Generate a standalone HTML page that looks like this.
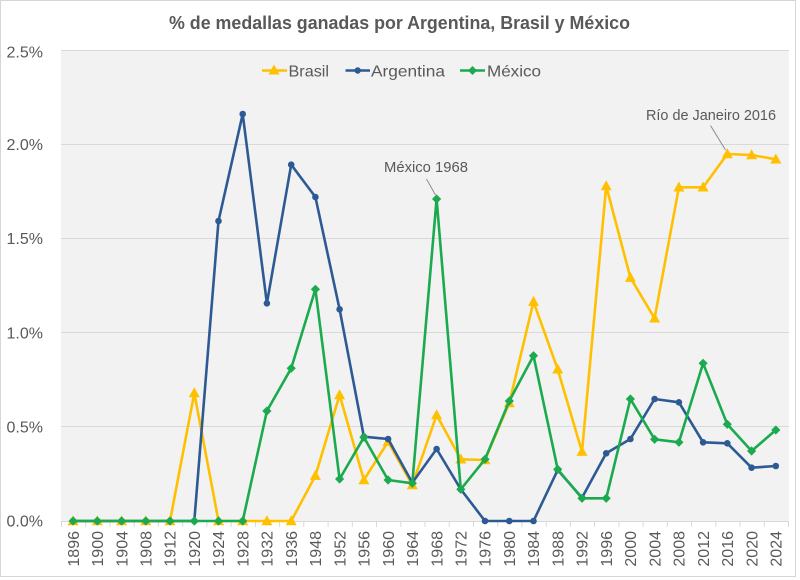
<!DOCTYPE html>
<html><head><meta charset="utf-8"><style>
html,body{margin:0;padding:0;background:#fff;}
svg{display:block;}
text{font-family:"Liberation Sans",sans-serif;fill:#595959;}
</style></head><body>
<svg width="800" height="580" viewBox="0 0 800 580" xmlns="http://www.w3.org/2000/svg">
<defs>
<marker id="tri" viewBox="-7 -7 14 14" markerWidth="14" markerHeight="14" refX="0" refY="0" markerUnits="userSpaceOnUse"><path d="M-5.5,4.2 L5.5,4.2 L0,-5.8Z" fill="#FFC000"/></marker>
<marker id="dot" viewBox="-5 -5 10 10" markerWidth="10" markerHeight="10" refX="0" refY="0" markerUnits="userSpaceOnUse"><circle r="3.3" fill="#2E5A94"/></marker>
<marker id="dia" viewBox="-6 -6 12 12" markerWidth="12" markerHeight="12" refX="0" refY="0" markerUnits="userSpaceOnUse"><path d="M0,-4.6 L4.6,0 L0,4.6 L-4.6,0Z" fill="#1BAA4E"/></marker>
</defs>
<rect x="0" y="0" width="800" height="580" fill="#fff"/>
<rect x="0.5" y="0.5" width="795" height="576" fill="none" stroke="#d6d6d6" stroke-width="1"/>
<!-- plot area -->
<rect x="61" y="50" width="728" height="471" fill="#f2f2f2"/>
<g stroke="#d9d9d9" stroke-width="1">
<line x1="61" y1="50.5" x2="789" y2="50.5"/>
<line x1="61" y1="144.5" x2="789" y2="144.5"/>
<line x1="61" y1="238.5" x2="789" y2="238.5"/>
<line x1="61" y1="332.5" x2="789" y2="332.5"/>
<line x1="61" y1="426.5" x2="789" y2="426.5"/>
<line x1="61" y1="521.5" x2="789" y2="521.5"/>
<path d="M61.5,521V527M85.7,521V527M110,521V527M134.2,521V527M158.4,521V527M182.7,521V527M206.9,521V527M231.1,521V527M255.4,521V527M279.6,521V527M303.8,521V527M328.1,521V527M352.3,521V527M376.5,521V527M400.8,521V527M425,521V527M449.2,521V527M473.5,521V527M497.7,521V527M521.9,521V527M546.2,521V527M570.4,521V527M594.6,521V527M618.9,521V527M643.1,521V527M667.3,521V527M691.6,521V527M715.8,521V527M740,521V527M764.3,521V527M788.5,521V527"/>
</g>
<!-- y labels -->
<g font-size="16" text-anchor="end">
<text x="43" y="57.5">2.5%</text>
<text x="43" y="150">2.0%</text>
<text x="43" y="244">1.5%</text>
<text x="43" y="338.5">1.0%</text>
<text x="43" y="432.5">0.5%</text>
<text x="43" y="526.5">0.0%</text>
</g>
<!-- x labels -->
<g font-size="16" text-anchor="end">
<text transform="translate(78.8,531) rotate(-90)">1896</text>
<text transform="translate(103,531) rotate(-90)">1900</text>
<text transform="translate(127.3,531) rotate(-90)">1904</text>
<text transform="translate(151.5,531) rotate(-90)">1908</text>
<text transform="translate(175.7,531) rotate(-90)">1912</text>
<text transform="translate(200,531) rotate(-90)">1920</text>
<text transform="translate(224.2,531) rotate(-90)">1924</text>
<text transform="translate(248.4,531) rotate(-90)">1928</text>
<text transform="translate(272.6,531) rotate(-90)">1932</text>
<text transform="translate(296.9,531) rotate(-90)">1936</text>
<text transform="translate(321.1,531) rotate(-90)">1948</text>
<text transform="translate(345.3,531) rotate(-90)">1952</text>
<text transform="translate(369.6,531) rotate(-90)">1956</text>
<text transform="translate(393.8,531) rotate(-90)">1960</text>
<text transform="translate(418,531) rotate(-90)">1964</text>
<text transform="translate(442.3,531) rotate(-90)">1968</text>
<text transform="translate(466.5,531) rotate(-90)">1972</text>
<text transform="translate(490.7,531) rotate(-90)">1976</text>
<text transform="translate(515,531) rotate(-90)">1980</text>
<text transform="translate(539.2,531) rotate(-90)">1984</text>
<text transform="translate(563.4,531) rotate(-90)">1988</text>
<text transform="translate(587.7,531) rotate(-90)">1992</text>
<text transform="translate(611.9,531) rotate(-90)">1996</text>
<text transform="translate(636.1,531) rotate(-90)">2000</text>
<text transform="translate(660.3,531) rotate(-90)">2004</text>
<text transform="translate(684.6,531) rotate(-90)">2008</text>
<text transform="translate(708.8,531) rotate(-90)">2012</text>
<text transform="translate(733,531) rotate(-90)">2016</text>
<text transform="translate(757.3,531) rotate(-90)">2020</text>
<text transform="translate(781.5,531) rotate(-90)">2024</text>
</g>
<!-- series -->
<g fill="none" stroke-width="2.6" stroke-linejoin="round">
<polyline stroke="#FFC000" marker-start="url(#tri)" marker-mid="url(#tri)" marker-end="url(#tri)" points="73.1,521 97.3,521 121.6,521 145.8,521 170,521 194.3,393 218.5,521 242.7,521 266.9,521 291.2,521 315.4,475.7 339.6,395 363.9,480 388.1,441.7 412.3,485 436.6,415 460.8,459.3 485,460 509.3,403 533.5,301.7 557.7,369.3 582,451.7 606.2,186 630.4,277.7 654.6,318.3 678.9,187.3 703.1,187.3 727.3,154 751.6,155 775.8,159.3"/>
<polyline stroke="#2E5A94" marker-start="url(#dot)" marker-mid="url(#dot)" marker-end="url(#dot)" points="73.1,521 97.3,521 121.6,521 145.8,521 170,521 194.3,521 218.5,221 242.7,114 266.9,303.3 291.2,164.7 315.4,197 339.6,309.3 363.9,436.7 388.1,439 412.3,482.7 436.6,449 460.8,489.3 485,521 509.3,521 533.5,521 557.7,470 582,497.7 606.2,453.3 630.4,439 654.6,399 678.9,402.3 703.1,442.3 727.3,443.3 751.6,467.7 775.8,466"/>
<polyline stroke="#1BAA4E" marker-start="url(#dia)" marker-mid="url(#dia)" marker-end="url(#dia)" points="73.1,521 97.3,521 121.6,521 145.8,521 170,521 194.3,521 218.5,521 242.7,521 266.9,411 291.2,368.3 315.4,289.3 339.6,479 363.9,437.3 388.1,480 412.3,483.3 436.6,199 460.8,489.3 485,459.3 509.3,401 533.5,355.7 557.7,469.3 582,498.3 606.2,498.3 630.4,399 654.6,439.3 678.9,442.3 703.1,363.3 727.3,424.3 751.6,451 775.8,430"/>
</g>
<!-- annotations -->
<g stroke="#8c8c8c" stroke-width="1">
<line x1="426.5" y1="179" x2="435.5" y2="195"/>
<line x1="710.5" y1="125.5" x2="725.5" y2="150"/>
</g>
<text x="384" y="172" font-size="15" textLength="84" lengthAdjust="spacingAndGlyphs">México 1968</text>
<text x="646" y="120" font-size="15" textLength="130" lengthAdjust="spacingAndGlyphs">Río de Janeiro 2016</text>
<!-- legend -->
<g stroke-width="2.6">
<line x1="262" y1="70.5" x2="287" y2="70.5" stroke="#FFC000"/>
<path d="M268.5,74.5 L279.5,74.5 L274,64.5Z" fill="#FFC000"/>
<line x1="345.5" y1="70.5" x2="370" y2="70.5" stroke="#2E5A94"/>
<circle cx="357.7" cy="70.5" r="3.2" fill="#2E5A94"/>
<line x1="460" y1="70.5" x2="485" y2="70.5" stroke="#1BAA4E"/>
<path d="M472.5,66 L477,70.5 L472.5,75 L468,70.5Z" fill="#1BAA4E"/>
</g>
<g font-size="16">
<text x="288.5" y="76.3" textLength="40.5" lengthAdjust="spacingAndGlyphs">Brasil</text>
<text x="371" y="76.3" textLength="74" lengthAdjust="spacingAndGlyphs">Argentina</text>
<text x="487" y="76.3" textLength="54" lengthAdjust="spacingAndGlyphs">México</text>
</g>
<!-- title -->
<text x="169" y="29" font-size="18" font-weight="bold" textLength="461" lengthAdjust="spacingAndGlyphs">% de medallas ganadas por Argentina, Brasil y México</text>
</svg>
</body></html>
